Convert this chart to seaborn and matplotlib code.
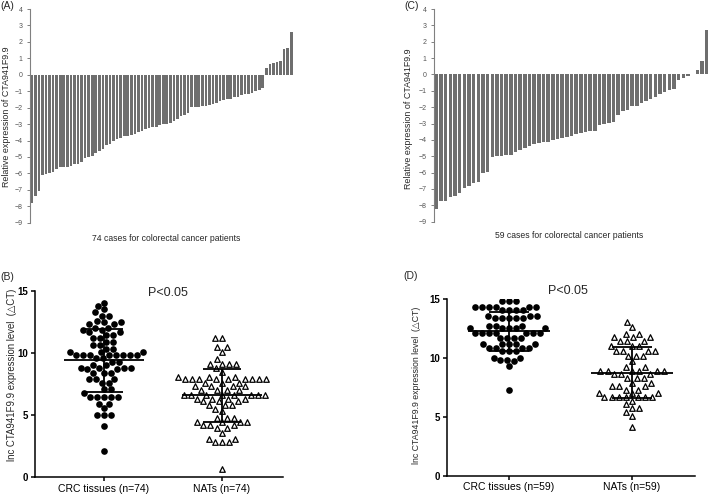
import numpy as np
import pandas as pd
import matplotlib
matplotlib.use("Agg")
import matplotlib.pyplot as plt
import seaborn as sns

# ---- data ----
# (A) 74 cases, sorted relative expression
a_neg = [-7.8, -7.35, -7.05, -6.1, -6.05, -6.0, -5.9, -5.75, -5.6, -5.6,
         -5.6, -5.55, -5.45, -5.4, -5.3, -5.05, -5.0, -4.95, -4.75, -4.65,
         -4.5, -4.3, -4.2, -4.0, -3.9, -3.85, -3.7, -3.7, -3.65, -3.6,
         -3.5, -3.4, -3.3, -3.25, -3.2, -3.15, -3.05, -3.0, -3.0, -2.95,
         -2.8, -2.7, -2.5, -2.45, -2.3, -1.95,
         -1.95, -1.95, -1.9, -1.9, -1.85, -1.8, -1.7, -1.6, -1.55, -1.5,
         -1.45, -1.35, -1.35, -1.25, -1.2, -1.15, -1.1, -1.0, -0.95, -0.8]
a_pos = [0.4, 0.65, 0.7, 0.75, 0.85, 1.55, 1.6, 2.6]
a_vals = a_neg + a_pos

# (C) 59 cases
c_neg = [-8.25, -7.75, -7.75, -7.5, -7.4, -7.25, -6.95, -6.8, -6.65, -6.55,
         -6.05, -5.95, -5.05, -5.0, -5.0, -4.95, -4.95, -4.75, -4.6, -4.5,
         -4.35, -4.25, -4.2, -4.15, -4.1, -4.0, -3.95, -3.9, -3.85, -3.75,
         -3.65, -3.6, -3.5, -3.45, -3.45, -3.1, -3.0, -2.95, -2.9, -2.45,
         -2.25, -2.2, -1.95, -1.9, -1.75, -1.6, -1.5, -1.35, -1.2, -1.1,
         -0.95, -0.9, -0.35, -0.2, -0.1]
c_pos = [0.05, 0.3, 0.85, 2.7]
c_vals = c_neg + c_pos

# (B) dCT values, 74 + 74
b_crc = [14.05, 13.75, 13.5, 13.25, 13.0, 13.0, 12.55, 12.5, 12.5, 12.3,
         12.3, 12.0, 12.0, 11.85, 11.85, 11.65, 11.65, 11.45, 11.45, 7.1,
         11.2, 11.2, 10.9, 10.9, 6.45, 10.6, 10.6, 10.35, 10.35, 10.05,
         10.05, 10.05, 9.8, 9.8, 9.8, 9.8, 9.8, 9.8, 9.8, 9.8,
         7.6, 9.55, 9.55, 9.3, 9.3, 9.05, 9.05, 8.8, 8.8, 8.8,
         8.8, 8.7, 8.7, 8.4, 8.4, 8.4, 7.9, 7.9, 7.9, 7.6,
         7.1, 6.75, 6.45, 6.45, 6.45, 6.45, 5.9, 5.9, 5.55, 5.0,
         5.0, 5.0, 4.1, 2.1]
b_nat = [11.2, 11.2, 10.5, 10.5, 10.1, 9.5, 9.1, 9.1, 9.1, 9.1,
         8.8, 8.5, 8.1, 8.1, 8.1, 7.9, 7.9, 7.9, 7.9, 7.9,
         7.9, 7.9, 7.9, 7.9, 7.6, 7.6, 7.6, 7.3, 7.3, 7.3,
         7.3, 7.0, 7.0, 7.0, 7.0, 6.6, 6.6, 6.6, 6.6, 6.6,
         6.6, 6.6, 6.6, 6.3, 6.3, 6.3, 6.3, 6.1, 6.1, 6.1,
         5.8, 5.8, 5.8, 5.5, 5.3, 4.8, 4.8, 4.8, 4.45, 4.45,
         4.45, 4.45, 4.2, 4.2, 4.2, 4.0, 4.0, 3.6, 3.1, 3.1,
         2.8, 2.8, 2.8, 0.65]

# (D) dCT values, 59 + 59
d_crc = [14.8, 14.8, 14.8, 14.35, 14.35, 14.35, 14.35, 14.35, 14.35, 14.1,
         14.1, 14.1, 14.1, 13.55, 13.55, 13.55, 13.35, 13.35, 13.35, 13.35,
         13.35, 12.75, 12.75, 12.75, 12.5, 12.5, 12.5, 12.5, 12.5, 12.15,
         12.15, 12.15, 12.15, 12.15, 12.15, 12.15, 11.7, 11.7, 11.7, 11.7,
         11.15, 11.15, 11.15, 11.15, 11.15, 10.85, 10.85, 10.85, 10.85, 10.55,
         10.55, 10.55, 10.0, 10.0, 9.85, 9.85, 9.7, 9.3, 7.25]
d_nat = [13.05, 12.65, 12.0, 12.0, 11.75, 11.75, 11.75, 11.4, 11.4, 11.4,
         11.0, 11.0, 11.0, 10.6, 10.6, 10.6, 10.6, 10.2, 10.2, 10.2,
         9.7, 9.2, 9.2, 8.9, 8.9, 8.9, 8.9, 8.9, 8.9, 8.6,
         8.6, 8.6, 8.3, 8.3, 8.3, 7.9, 7.9, 7.6, 7.6, 7.6,
         7.3, 7.3, 7.05, 7.05, 7.05, 6.65, 6.65, 6.65, 6.65, 6.65,
         6.65, 6.65, 6.35, 6.05, 5.75, 5.75, 5.4, 5.05, 4.1]

b_labels = ["CRC tissues (n=74)", "NATs (n=74)"]
d_labels = ["CRC tissues (n=59)", "NATs (n=59)"]

sns.set_style("white")
plt.rcParams["font.family"] = ["Liberation Sans", "DejaVu Sans"]

W, H = 709, 501
fig = plt.figure(figsize=(W / 100, H / 100), dpi=100)


def box(x0, y0, x1, y1):
    # pixel box -> figure fraction
    return [x0 / W, 1 - y1 / H, (x1 - x0) / W, (y1 - y0) / H]


def bar_panel(rect, vals, xlabel, ylab_xy, xlab_xy):
    ax = fig.add_axes(rect)
    sns.barplot(x=np.arange(len(vals)), y=vals, ax=ax, color="#6e6e6e",
                width=0.75, saturation=1, linewidth=0)
    ax.set_xlim(-0.5, len(vals) - 0.5)
    ax.set_ylim(-9, 4)
    ax.set_yticks(range(-9, 5))
    ax.set_xticks([])
    for s in ["top", "right", "bottom"]:
        ax.spines[s].set_visible(False)
    ax.spines["left"].set_color("#808080")
    ax.spines["left"].set_linewidth(0.8)
    ax.tick_params(axis="y", direction="out", length=2.5, width=0.7,
                   colors="#808080", labelsize=5, pad=3, left=True)
    for t in ax.get_yticklabels():
        t.set_color("#555555")
    ax.set_ylabel("Relative expression of CTA941F9.9", fontsize=6.4)
    ax.yaxis.set_label_coords(*ylab_xy)
    ax.set_xlabel(xlabel, fontsize=6.2)
    ax.xaxis.set_label_coords(*xlab_xy)
    ax.xaxis.label.set_va("center")
    ax.yaxis.label.set_va("center")
    return ax


axA = bar_panel(box(30, 9, 293, 222.7), a_vals,
                "74 cases for colorectal cancer patients",
                (-0.091, 0.497), (0.517, -0.072))
axC = bar_panel(box(434, 9, 709, 221.7), c_vals,
                "59 cases for colorectal cancer patients",
                (-0.091, 0.485), (0.49, -0.067))


def dot_panel(rect, crc, nat, labels, xlim, ylab_size, ylab_xy):
    ax = fig.add_axes(rect)
    df = pd.DataFrame({"group": [labels[0]] * len(crc) + [labels[1]] * len(nat),
                       "value": crc + nat})
    sns.swarmplot(data=df[df.group == labels[0]], x="group", y="value",
                  order=labels, ax=ax, color="black", size=4.8, marker="o",
                  linewidth=0)
    sns.swarmplot(data=df[df.group == labels[1]], x="group", y="value",
                  order=labels, ax=ax, color="white", edgecolor="black",
                  size=4.0, marker="^", linewidth=0.9)
    for i, v in enumerate([crc, nat]):
        m, sd = np.mean(v), np.std(v, ddof=1)
        ax.hlines(m, i - 0.335, i + 0.335, color="black", lw=1.3, zorder=5)
        ax.hlines([m - sd, m + sd], i - 0.165, i + 0.165, color="black",
                  lw=1.3, zorder=5)
        ax.vlines(i, m - sd, m + sd, color="black", lw=1.3, zorder=5)
    ax.set_xlim(*xlim)
    ax.set_ylim(0, 15)
    ax.set_yticks([0, 5, 10, 15])
    for s in ["top", "right"]:
        ax.spines[s].set_visible(False)
    for s in ["left", "bottom"]:
        ax.spines[s].set_color("black")
        ax.spines[s].set_linewidth(1.1)
    ax.tick_params(direction="out", length=3, width=1.1, colors="black",
                   left=True, bottom=True)
    ax.tick_params(axis="y", labelsize=7, pad=2)
    ax.tick_params(axis="x", labelsize=7.5, pad=1.5)
    for t in ax.get_yticklabels():
        t.set_fontweight("bold")
    ax.set_xlabel("")
    ax.set_ylabel("lnc CTA941F9.9 expression level  (\u25b3CT)",
                  fontsize=ylab_size)
    ax.yaxis.set_label_coords(*ylab_xy)
    ax.yaxis.label.set_va("center")
    return ax


axB = dot_panel(box(35, 290.7, 283, 477.3), b_crc, b_nat, b_labels,
                (-0.585, 1.517), 6.9, (-0.092, 0.548))
axD = dot_panel(box(447, 299, 695, 475.7), d_crc, d_nat, d_labels,
                (-0.504, 1.512), 6.3, (-0.121, 0.513))

fig.text(168 / W, 1 - 293 / H, "P<0.05", fontsize=9, ha="center", va="center")
fig.text(568 / W, 1 - 291 / H, "P<0.05", fontsize=9, ha="center", va="center")

for lab, x, y in [("(A)", 0, 6), ("(C)", 404, 6), ("(B)", 0, 277), ("(D)", 403, 276)]:
    fig.text(x / W, 1 - y / H, lab, fontsize=7.5, ha="left", va="center")

fig.savefig("out.png", dpi=100)
